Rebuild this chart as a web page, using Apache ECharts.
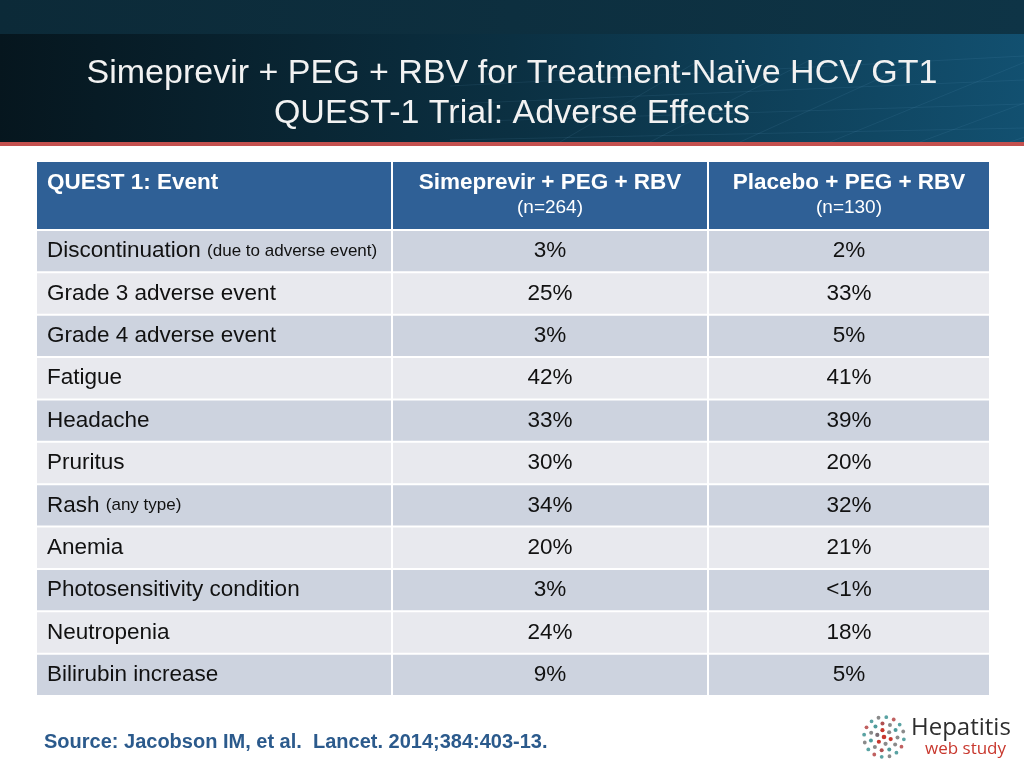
<!DOCTYPE html>
<html>
<head>
<meta charset="utf-8">
<style>
  html, body { margin: 0; padding: 0; background: #ffffff; }
  #chart { width: 1024px; height: 768px; }
</style>
<script src="https://cdn.jsdelivr.net/npm/echarts@6/dist/echarts.min.js"></script>
</head>
<body>
<div id="chart"></div>
<script>
// ---------- DATA ----------
const titleLines = ['Simeprevir + PEG + RBV for Treatment-Naïve HCV GT1', 'QUEST-1 Trial: Adverse Effects'];
const columnHeaders = ['QUEST 1: Event', 'Simeprevir + PEG + RBV', 'Placebo + PEG + RBV'];
const columnSubHeaders = ['', '(n=264)', '(n=130)'];
const events = ['Discontinuation', 'Grade 3 adverse event', 'Grade 4 adverse event', 'Fatigue', 'Headache',
  'Pruritus', 'Rash', 'Anemia', 'Photosensitivity condition', 'Neutropenia', 'Bilirubin increase'];
const eventNotes = ['(due to adverse event)', '', '', '', '', '', '(any type)', '', '', '', ''];
const simeprevirPct = ['3%', '25%', '3%', '42%', '33%', '30%', '34%', '20%', '3%', '24%', '9%'];
const placeboPct = ['2%', '33%', '5%', '41%', '39%', '20%', '32%', '21%', '<1%', '18%', '5%'];
const sourceText = 'Source: Jacobson IM, et al.  Lancet. 2014;384:403-13.';

// ---------- LAYOUT ----------
const FONT = '"Liberation Sans", Arial, Helvetica, sans-serif';
const colEdges = [0, 356, 672, 952];   // column boundaries along the hidden x value axis
const GAP = 2;
const columns = [events, simeprevirPct, placeboPct];

const chart = echarts.init(document.getElementById('chart'), null, { renderer: 'canvas' });

function cellRect(api, c, r) {
  const center = api.coord([0, r]);
  const bandH = api.size([0, 1])[1];
  const x0 = api.coord([colEdges[c], r])[0];
  const x1 = api.coord([colEdges[c + 1] - (c < 2 ? GAP : 0), r])[0];
  return { x: x0, y: center[1] - bandH / 2 + 1, width: x1 - x0, height: bandH - 2, cy: center[1] };
}

const bodyData = [];
events.forEach((e, r) => { for (let c = 0; c < 3; c++) bodyData.push([c, r]); });

// logo dots
const logoDots = [];
const logoC = [884, 737];
const rings = [[0, 1, 2.3], [7, 6, 2.1], [13.5, 11, 2.0], [20, 16, 1.9]];
const ringColors = [['#c8372d'], ['#c8372d', '#8a8a8a', '#c8372d', '#7b6f76', '#c8372d', '#8a8a8a'],
  ['#8a8a8a', '#4e9b9b', '#b05050', '#8a8a8a', '#4e9b9b'], ['#5aa3a3', '#8a8a8a', '#5aa3a3', '#c06060']];
rings.forEach((rg, i) => {
  for (let k = 0; k < rg[1]; k++) {
    const a = (k / rg[1]) * Math.PI * 2 + i * 0.3;
    logoDots.push({
      type: 'circle', silent: true,
      shape: { cx: logoC[0] + rg[0] * Math.cos(a), cy: logoC[1] + rg[0] * Math.sin(a), r: rg[2] },
      style: { fill: ringColors[i][k % ringColors[i].length] }
    });
  }
});

// faint grid lines in title band
const bandLines = [];
for (let i = 0; i < 6; i++) {
  bandLines.push({ type: 'line', silent: true,
    shape: { x1: 560 + i * 90, y1: 142, x2: 700 + i * 110, y2: 60 },
    style: { stroke: 'rgba(120,180,220,0.10)', lineWidth: 1 } });
}
for (let i = 0; i < 4; i++) {
  bandLines.push({ type: 'line', silent: true,
    shape: { x1: 450, y1: 140 - i * 18, x2: 1024, y2: 128 - i * 24 },
    style: { stroke: 'rgba(120,180,220,0.10)', lineWidth: 1 } });
}

const option = {
  animation: false,
  backgroundColor: '#ffffff',
  graphic: [
    { type: 'rect', z: -10, silent: true, shape: { x: 0, y: 0, width: 1024, height: 36 },
      style: { fill: new echarts.graphic.LinearGradient(0, 0, 1, 0, [{ offset: 0, color: '#0c2a38' }, { offset: 1, color: '#0e3446' }]) } },
    { type: 'rect', z: -10, silent: true, shape: { x: 0, y: 34, width: 1024, height: 109 },
      style: { fill: new echarts.graphic.LinearGradient(0, 0, 1, 0.3, [{ offset: 0, color: '#06161e' }, { offset: 0.5, color: '#0b3042' }, { offset: 1, color: '#125070' }]) } },
    ...bandLines,
    { type: 'rect', z: -9, silent: true, shape: { x: 0, y: 142, width: 1024, height: 4 }, style: { fill: '#c4504e' } },
    { type: 'text', silent: true, left: 'center', top: 57,
      style: { text: titleLines[0], font: '34px ' + FONT, fill: '#f2f2f2', textAlign: 'center' } },
    { type: 'text', silent: true, left: 'center', top: 97,
      style: { text: titleLines[1], font: '34px ' + FONT, fill: '#f2f2f2', textAlign: 'center' } },
    { type: 'text', silent: true, left: 44, top: 732,
      style: { text: sourceText, font: 'bold 20px ' + FONT, fill: '#2b5a8c' } },
    ...logoDots,
    { type: 'text', silent: true, left: 911, top: 716,
      style: { text: 'Hepatitis', font: '24px "Open Sans", ' + FONT, fill: '#2e2e2e' } },
    { type: 'text', silent: true, left: 925, top: 741,
      style: { text: 'web study', font: '17px "Open Sans", ' + FONT, fill: '#c8372d' } }
  ],
  grid: [
    { left: 37, width: 952, top: 162, height: 67 },
    { left: 37, width: 952, top: 230, height: 466 }
  ],
  xAxis: [
    { gridIndex: 0, type: 'value', min: 0, max: 952, show: false },
    { gridIndex: 1, type: 'value', min: 0, max: 952, show: false }
  ],
  yAxis: [
    { gridIndex: 0, type: 'category', data: ['header'], inverse: true, show: false },
    { gridIndex: 1, type: 'category', data: events, inverse: true, show: false }
  ],
  series: [
    {
      type: 'custom', xAxisIndex: 0, yAxisIndex: 0, silent: true,
      data: [[0, 0], [1, 0], [2, 0]],
      renderItem: function (params, api) {
        const c = api.value(0), r = api.value(1);
        const center = api.coord([0, r]);
        const bandH = api.size([0, 1])[1];
        const x0 = api.coord([colEdges[c], r])[0];
        const x1 = api.coord([colEdges[c + 1] - (c < 2 ? GAP : 0), r])[0];
        const top = center[1] - bandH / 2;
        const children = [{ type: 'rect', shape: { x: x0, y: top, width: x1 - x0, height: bandH }, style: { fill: '#2f6096' } }];
        children.push({ type: 'text', style: {
          text: columnHeaders[c], x: c === 0 ? x0 + 10 : (x0 + x1) / 2, y: top + 9,
          textAlign: c === 0 ? 'left' : 'center', textVerticalAlign: 'top',
          font: 'bold 22.5px ' + FONT, fill: '#ffffff' } });
        if (columnSubHeaders[c]) {
          children.push({ type: 'text', style: {
            text: columnSubHeaders[c], x: (x0 + x1) / 2, y: top + 46,
            textAlign: 'center', textVerticalAlign: 'middle',
            font: '19px ' + FONT, fill: '#ffffff' } });
        }
        return { type: 'group', children: children };
      }
    },
    {
      type: 'custom', xAxisIndex: 1, yAxisIndex: 1, silent: true,
      data: bodyData,
      renderItem: function (params, api) {
        const c = api.value(0), r = api.value(1);
        const cell = cellRect(api, c, r);
        const fill = r % 2 === 0 ? '#cdd3df' : '#e8e9ee';
        const children = [{ type: 'rect', shape: { x: cell.x, y: cell.y, width: cell.width, height: cell.height }, style: { fill: fill } }];
        if (c === 0) {
          const note = eventNotes[r];
          children.push({ type: 'text', style: {
            text: '{m|' + events[r] + '}' + (note ? ' {s|' + note + '}' : ''),
            x: cell.x + 10, y: cell.cy, textAlign: 'left', textVerticalAlign: 'middle',
            rich: { m: { fontSize: 22.5, fontFamily: FONT, fill: '#111111', color: '#111111' },
                    s: { fontSize: 17, fontFamily: FONT, fill: '#111111', color: '#111111' } },
            font: '22.5px ' + FONT, fill: '#111111' } });
        } else {
          children.push({ type: 'text', style: {
            text: columns[c][r], x: cell.x + cell.width / 2, y: cell.cy,
            textAlign: 'center', textVerticalAlign: 'middle',
            font: '22.5px ' + FONT, fill: '#111111' } });
        }
        return { type: 'group', children: children };
      }
    }
  ]
};
chart.setOption(option);
</script>
</body>
</html>
